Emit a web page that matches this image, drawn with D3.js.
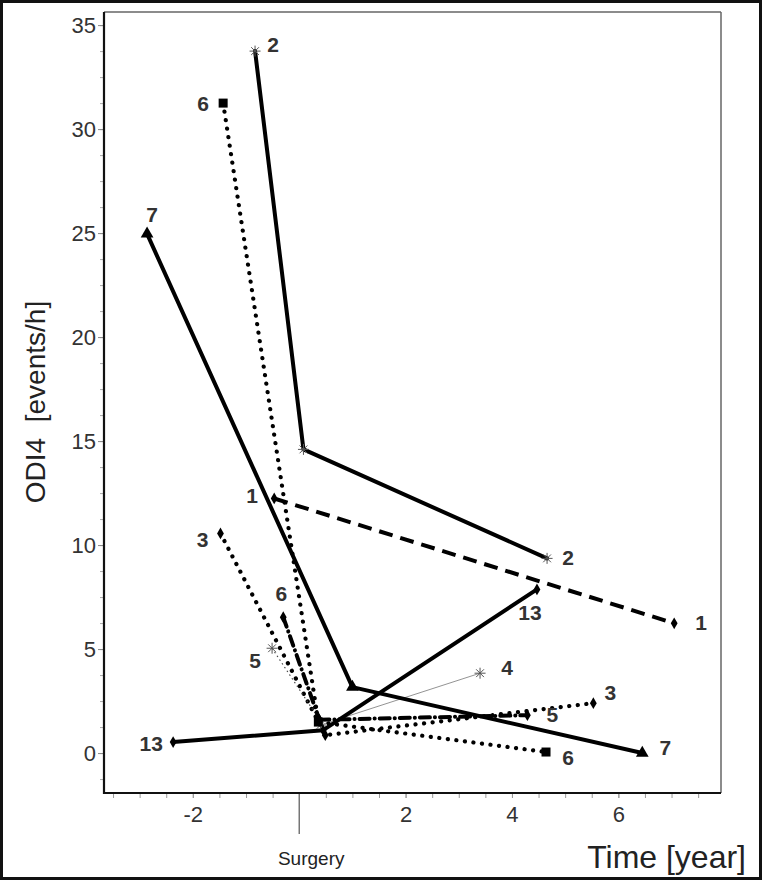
<!DOCTYPE html>
<html><head><meta charset="utf-8">
<script src="https://cdn.jsdelivr.net/npm/d3@7"></script>
<style>html,body{margin:0;padding:0;background:#fff;}svg{display:block;}</style>
</head><body>
<svg id="chart" width="762" height="880"></svg>
<script>
// ---- data ----
const patients = ["1", "2", "3", "4", "5", "6", "6", "7", "13"];
const timeYears = [
  [-0.47, 7.05],
  [-0.83, 0.08, 4.66],
  [-1.48, 0.49, 5.53],
  [0.40, 3.40],
  [-0.51, 0.38, 4.29],
  [-1.43, 0.36, 4.64],
  [-0.30, 0.38],
  [-2.86, 1.00, 6.45],
  [-2.37, 0.45, 4.47]
];
const odi4 = [
  [12.24, 6.24],
  [33.75, 14.6, 9.36],
  [10.56, 0.86, 2.4],
  [1.35, 3.84],
  [5.04, 1.6, 1.82],
  [31.25, 1.49, 0.05],
  [6.53, 1.6],
  [24.96, 3.17, 0.0],
  [0.53, 1.1, 7.87]
];
const xTickLabels = [-2, 2, 4, 6];
const yTickLabels = [0, 5, 10, 15, 20, 25, 30, 35];

// ---- styling (not data) ----
const DOT = "0.1,8.5", DASHDOT = "10,5,0.1,5";
const lineStyle = [
  {w: 4, dash: "14,8", cap: "butt", marker: "diamond"},
  {w: 4, dash: null, cap: "round", marker: "asterisk"},
  {w: 4.2, dash: DOT, cap: "round", marker: "diamond"},
  {w: 0.8, dash: null, cap: "butt", marker: "asterisk", color: "#777"},
  {w: 4, dash: DASHDOT, cap: "round", marker: "diamond", first: {w: 1.2, dash: "1.5,3", cap: "butt", color: "#444"}, firstMarker: "asterisk"},
  {w: 4.2, dash: DOT, cap: "round", marker: "square"},
  {w: 4, dash: DASHDOT, cap: "round", marker: "diamond"},
  {w: 4, dash: null, cap: "round", marker: "triangle"},
  {w: 4, dash: null, cap: "round", marker: "diamond"}
];
// label offsets: [seriesIndex, pointIndex, dx, dy]
const labelPlacement = [
  [0, 0, -22, -3], [0, 1, 27, -1],
  [1, 0, 18, -7], [1, 2, 21, -1],
  [2, 0, -18, 6], [2, 2, 17, -11],
  [3, 1, 27, -6],
  [4, 0, -17, 12], [4, 2, 25, -1],
  [5, 0, -20, 0], [5, 2, 22, 5],
  [6, 0, -2, -24],
  [7, 0, 5, -19], [7, 2, 23, -6],
  [8, 0, -22, 1], [8, 2, -7, 23]
];

const FONT = "Liberation Sans, Arial, Helvetica, sans-serif";
const svg = d3.select("#chart");
const W = 762, H = 880;
const L = 104, R = 721, T = 12, B = 793;

const x = d3.scaleLinear().domain([-3.67, 7.93]).range([L, R]);
const y = d3.scaleLinear().domain([-1.92, 35.63]).range([B, T]);

// plot frame: top/right thin gray
svg.append("line").attr("x1", L).attr("x2", R).attr("y1", T).attr("y2", T).attr("stroke", "#666").attr("stroke-width", 1.5);
svg.append("line").attr("x1", R).attr("x2", R).attr("y1", T).attr("y2", B).attr("stroke", "#666").attr("stroke-width", 1.5);

// y axis
const yMinor = d3.range(-1.25, 35.01, 1.25);
const gy = svg.append("g").attr("transform", `translate(${L},0)`)
  .call(d3.axisLeft(y).tickValues(yMinor).tickSize(4).tickFormat(""));
gy.selectAll(".tick line").attr("stroke", "#aaa").attr("stroke-width", 1);
gy.select(".domain").remove();
const gyMajor = svg.append("g").attr("transform", `translate(${L},0)`)
  .call(d3.axisLeft(y).tickValues(yTickLabels).tickSize(6).tickPadding(2).tickFormat(d => String(d)));
gyMajor.select(".domain").remove();
gyMajor.selectAll(".tick line").attr("stroke", "#888");
gyMajor.selectAll(".tick text").attr("font-family", FONT)
  .attr("font-size", 22).attr("fill", "#333");

// x axis
const xMinor = d3.range(-3.5, 7.51, 0.5).filter(v => v !== 0);
const gx = svg.append("g").attr("transform", `translate(0,${B})`)
  .call(d3.axisBottom(x).tickValues(xMinor).tickSize(5).tickFormat(""));
gx.select(".domain").remove();
gx.selectAll(".tick line").attr("stroke", "#999");
const gxMajor = svg.append("g").attr("transform", `translate(0,${B})`)
  .call(d3.axisBottom(x).tickValues(xTickLabels).tickSize(5).tickPadding(8).tickFormat(d => String(d)));
gxMajor.select(".domain").remove();
gxMajor.selectAll(".tick line").attr("stroke", "#999");
gxMajor.selectAll(".tick text").attr("font-family", FONT)
  .attr("font-size", 22).attr("fill", "#333");
// surgery long tick
svg.append("line").attr("x1", x(0)).attr("x2", x(0)).attr("y1", B).attr("y2", B + 41)
  .attr("stroke", "#555").attr("stroke-width", 1.2);

// axis lines (black, thick)
svg.append("line").attr("x1", L).attr("x2", L).attr("y1", T).attr("y2", B + 1).attr("stroke", "#111").attr("stroke-width", 2.2);
svg.append("line").attr("x1", L - 1).attr("x2", R).attr("y1", B).attr("y2", B).attr("stroke", "#111").attr("stroke-width", 2.2);

// axis titles
svg.append("text").attr("x", x(0) + 12).attr("y", 865).attr("text-anchor", "middle")
  .attr("font-family", FONT).attr("font-size", 19).attr("fill", "#222").text("Surgery");
svg.append("text").attr("x", 746).attr("y", 868).attr("text-anchor", "end")
  .attr("font-family", FONT).attr("font-size", 32).attr("fill", "#222").text("Time [year]");
svg.append("text").attr("transform", "translate(45,402) rotate(-90)").attr("text-anchor", "middle")
  .attr("font-family", FONT).attr("font-size", 28).attr("fill", "#222")
  .attr("xml:space", "preserve").text("ODI4  [events/h]");

// lines
const plot = svg.append("g");
function drawPath(pts, st) {
  plot.append("path").datum(pts)
    .attr("d", d3.line().x(d => x(d[0])).y(d => y(d[1])))
    .attr("fill", "none").attr("stroke", st.color || "#000")
    .attr("stroke-width", st.w).attr("stroke-linecap", st.cap).attr("stroke-linejoin", "round")
    .attr("stroke-dasharray", st.dash);
}
patients.forEach((p, i) => {
  const pts = timeYears[i].map((t, j) => [t, odi4[i][j]]);
  const st = lineStyle[i];
  if (st.first) {
    drawPath(pts.slice(0, 2), st.first);
    drawPath(pts.slice(1), st);
  } else {
    drawPath(pts, st);
  }
});

// markers
function drawMarker(g, type, cx, cy) {
  if (type === "square") {
    g.append("rect").attr("x", cx - 4.5).attr("y", cy - 4.5).attr("width", 9).attr("height", 9).attr("fill", "#000");
  } else if (type === "triangle") {
    g.append("path").attr("d", d3.symbol(d3.symbolTriangle, 70)()).attr("transform", `translate(${cx},${cy})`).attr("fill", "#000");
  } else if (type === "diamond") {
    g.append("path").attr("d", d3.symbol(d3.symbolDiamond, 40)()).attr("transform", `translate(${cx},${cy})`).attr("fill", "#000");
  } else if (type === "asterisk") {
    const r = 5.5, a = r * 0.707;
    const d = `M${cx - r},${cy}L${cx + r},${cy}M${cx},${cy - r}L${cx},${cy + r}M${cx - a},${cy - a}L${cx + a},${cy + a}M${cx - a},${cy + a}L${cx + a},${cy - a}`;
    g.append("path").attr("d", d).attr("stroke", "#555").attr("stroke-width", 1).attr("fill", "none");
  }
}
patients.forEach((p, i) => {
  const st = lineStyle[i];
  timeYears[i].forEach((t, j) => {
    const m = (j === 0 && st.firstMarker) ? st.firstMarker : st.marker;
    drawMarker(plot, m, x(t), y(odi4[i][j]));
  });
});

// labels
labelPlacement.forEach(([si, pi, dx, dy]) => {
  svg.append("text")
    .attr("x", x(timeYears[si][pi]) + dx).attr("y", y(odi4[si][pi]) + dy)
    .attr("text-anchor", "middle").attr("dominant-baseline", "central")
    .attr("font-family", FONT).attr("font-weight", "bold")
    .attr("font-size", 21).attr("fill", "#333").text(patients[si]);
});

// outer frame
svg.append("rect").attr("x", 1.5).attr("y", 1.5).attr("width", W - 3).attr("height", H - 3)
  .attr("fill", "none").attr("stroke", "#111").attr("stroke-width", 3);
</script>
</body></html>
